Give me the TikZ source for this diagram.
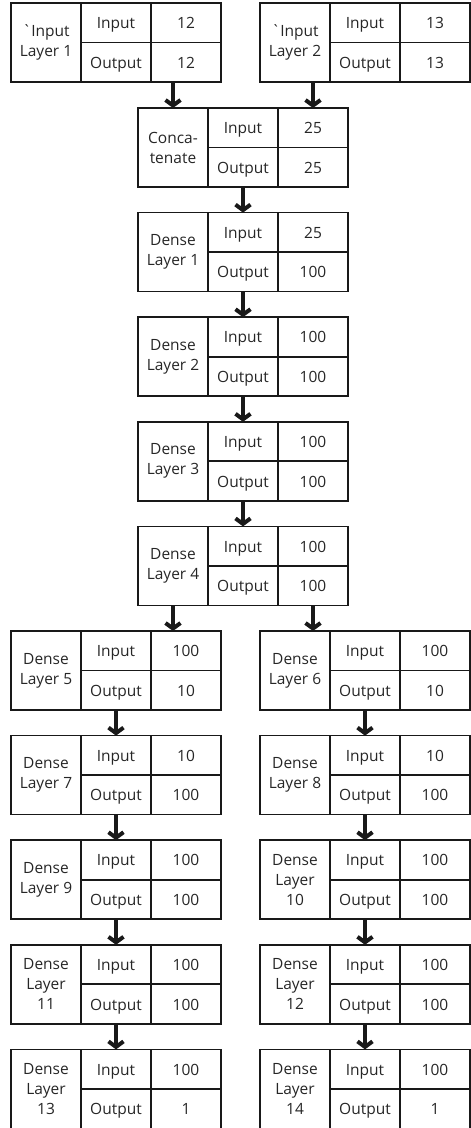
\documentclass[tikz,border=0pt]{standalone}
\usepackage{fontspec}
\setmainfont{Open Sans}
\usetikzlibrary{positioning,arrows.meta}
\tikzset{
  box/.style={draw=black!90, line width=1.7pt, inner sep=0pt, outer sep=0pt, minimum width=70pt, align=center, text=black!85, font=\fontsize{15.5}{20}\selectfont},
  cell/.style={box, minimum height=39.5pt, text height=12pt, text depth=0pt},
  name cell/.style={box, minimum height=79pt, anchor=north west},
  flow/.style={draw=black!90, line width=4pt, -{Straight Barb[length=5.5pt,width=15pt]}},
}
% one layer box: name, placement, label, input size, output size
\newcommand{\netlayer}[5]{%
  \node[name cell,#2] (#1-l) {#3};
  \node[cell,below right=0pt and 0pt of #1-l.north east] (#1-i) {Input};
  \node[cell,right=0pt of #1-i] (#1-iv) {#4};
  \node[cell,below=0pt of #1-i] (#1-o) {Output};
  \node[cell,right=0pt of #1-o] (#1-ov) {#5};
}

\begin{document}
\begin{tikzpicture}[x=1pt,y=-1pt]
\useasboundingbox (0,0) rectangle (471,1128);
% the layers
\netlayer{in1}{at={(11,3)}}{\textasciigrave Input\\Layer 1}{12}{12}
\netlayer{in2}{at={(260,3)}}{\textasciigrave Input\\Layer 2}{13}{13}
\netlayer{cc}{at={(138,108)}}{Conca-\\tenate}{25}{25}
\netlayer{d1}{below=25.6pt of cc-l}{Dense\\Layer 1}{25}{100}
\netlayer{d2}{below=25.6pt of d1-l}{Dense\\Layer 2}{100}{100}
\netlayer{d3}{below=25.6pt of d2-l}{Dense\\Layer 3}{100}{100}
\netlayer{d4}{below=25.6pt of d3-l}{Dense\\Layer 4}{100}{100}
\netlayer{d5}{below=25.6pt of d4-l,xshift=-127pt}{Dense\\Layer 5}{100}{10}
\netlayer{d6}{below=25.6pt of d4-l,xshift=122pt}{Dense\\Layer 6}{100}{10}
\netlayer{d7}{below=25.6pt of d5-l}{Dense\\Layer 7}{10}{100}
\netlayer{d8}{below=25.6pt of d6-l}{Dense\\Layer 8}{10}{100}
\netlayer{d9}{below=25.6pt of d7-l}{Dense\\Layer 9}{100}{100}
\netlayer{d10}{below=25.6pt of d8-l}{Dense\\Layer\\10}{100}{100}
\netlayer{d11}{below=25.6pt of d9-l}{Dense\\Layer\\11}{100}{100}
\netlayer{d12}{below=25.6pt of d10-l}{Dense\\Layer\\12}{100}{100}
\netlayer{d13}{below=25.6pt of d11-l}{Dense\\Layer\\13}{100}{1}
\netlayer{d14}{below=25.6pt of d12-l}{Dense\\Layer\\14}{100}{1}
% arrows between layers
\draw[flow] (in1-l.south -| cc-l.north) -- (cc-l.north);
\draw[flow] (in2-l.south -| cc-iv.north) -- (cc-iv.north);
\draw[flow] (cc-o.south) -- (d1-i.north);
\draw[flow] (d1-o.south) -- (d2-i.north);
\draw[flow] (d2-o.south) -- (d3-i.north);
\draw[flow] (d3-o.south) -- (d4-i.north);
\draw[flow] (d4-l.south) -- (d4-l.south |- d5-iv.north);
\draw[flow] (d4-ov.south) -- (d4-ov.south |- d6-iv.north);
\draw[flow] (d5-o.south) -- (d7-i.north);
\draw[flow] (d6-o.south) -- (d8-i.north);
\draw[flow] (d7-o.south) -- (d9-i.north);
\draw[flow] (d8-o.south) -- (d10-i.north);
\draw[flow] (d9-o.south) -- (d11-i.north);
\draw[flow] (d10-o.south) -- (d12-i.north);
\draw[flow] (d11-o.south) -- (d13-i.north);
\draw[flow] (d12-o.south) -- (d14-i.north);
\end{tikzpicture}
\end{document}
